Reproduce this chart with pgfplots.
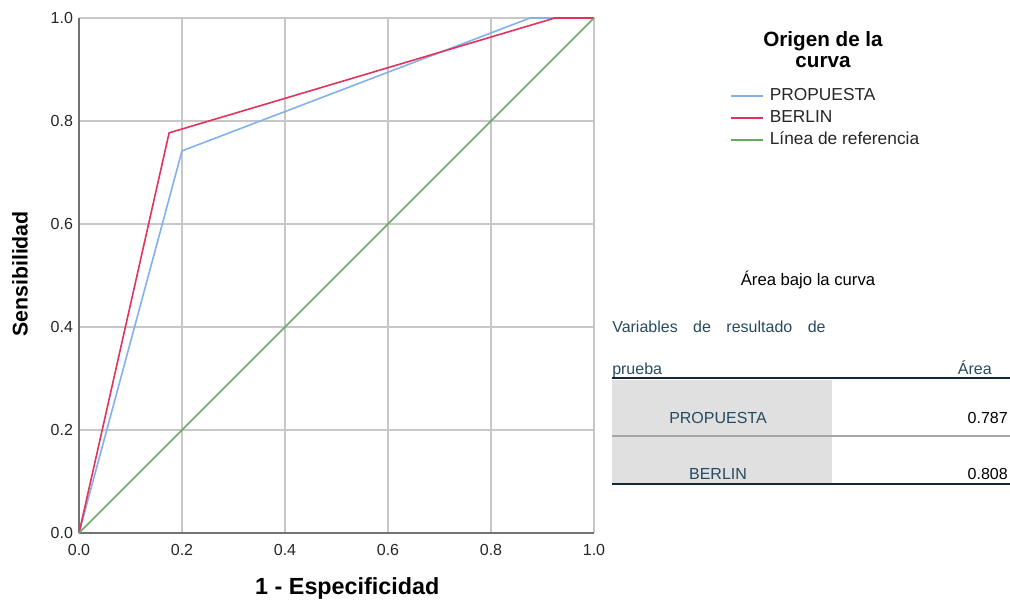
\documentclass[border=0pt]{standalone}
\usepackage{fontspec}
\setmainfont{Liberation Sans}
\usepackage{pgfplots}
\pgfplotsset{compat=1.18}
\definecolor{cblue}{HTML}{82B1EE}
\definecolor{cred}{HTML}{E3325B}
\definecolor{cgreen}{HTML}{6AAA64}
\definecolor{spss}{HTML}{264A60}
\definecolor{spssdark}{HTML}{152935}
\begin{document}
\begin{tikzpicture}
\useasboundingbox (0,0) rectangle (757.5pt,450.75pt);
\begin{axis}[
  at={(59.25pt,51pt)}, anchor=south west,
  scale only axis, width=386.25pt, height=386.25pt,
  xmin=0, xmax=1, ymin=0, ymax=1,
  xtick={0,0.2,0.4,0.6,0.8,1.0}, ytick={0,0.2,0.4,0.6,0.8,1.0},
  xticklabels={0.0,0.2,0.4,0.6,0.8,1.0},
  yticklabels={0.0,0.2,0.4,0.6,0.8,1.0},
  major tick length=0pt,
  axis x line*=bottom, axis y line*=left,
  axis line style={-, draw=black!55, line width=0.9pt},
  grid=major,
  major grid style={draw=black!22, line width=0.9pt},
  tick label style={font=\fontsize{12}{14}\selectfont, text=black!85},
  /pgf/number format/assume math mode=true,
  xticklabel style={yshift=-5pt},
  yticklabel style={xshift=-1pt},
  xlabel={1 - Especificidad}, ylabel={Sensibilidad},
  xlabel style={at={(axis description cs:0.521,-0.107)}, anchor=center, font=\bfseries\fontsize{17.5}{20}\selectfont},
  ylabel style={at={(axis description cs:-0.1146,0.503)}, anchor=center, font=\bfseries\fontsize{16}{19}\selectfont},
  legend image code/.code={\draw[#1] (0pt,0pt) -- (24pt,0pt);},
  legend style={at={(1.264,0.8654)}, anchor=north west, draw=none, fill=none,
    font=\fontsize{13}{15}\selectfont, inner sep=0pt,
    nodes={inner sep=0pt, text height=9.5pt, text depth=3pt},
    row sep=4pt, column sep=4.5pt, text=black!85},
  legend cell align=left,
  clip=false,
]
\addplot[cblue, line width=1.2pt] coordinates {(0,0) (0.2,0.742) (0.876,1) (1,1)};
\addlegendentry{PROPUESTA}
\addplot[cred, line width=1.2pt] coordinates {(0,0) (0.175,0.777) (0.924,1) (1,1)};
\addlegendentry{BERLIN}
\addplot[cgreen, line width=1.2pt] coordinates {(0,0) (1,1)};
\addlegendentry{Línea de referencia}
\end{axis}
% legend title
\node[align=center, font=\bfseries\fontsize{15.5}{15.75}\selectfont] at (617.25pt,413.6pt) {Origen de la\\curva};
% table
\node[font=\fontsize{12.5}{15}\selectfont] at (606pt,240.75pt) {Área bajo la curva};
\node[anchor=base west, inner sep=0pt, text=spss, font=\fontsize{12}{14}\selectfont] at (459pt,201.75pt)
  {\makebox[160pt][l]{Variables\hfill de\hfill resultado\hfill de}};
\node[anchor=base west, inner sep=0pt, text=spss, font=\fontsize{12}{14}\selectfont] at (459pt,170.25pt) {prueba};
\node[anchor=base east, inner sep=0pt, text=spss, font=\fontsize{12}{14}\selectfont] at (744pt,170.25pt) {Área};
\fill[black!12] (459pt,88.5pt) rectangle (624pt,165.75pt);
\draw[spssdark, line width=1.4pt] (459pt,167.25pt) -- (757.5pt,167.25pt);
\draw[black!35, line width=1pt] (459pt,123.75pt) -- (757.5pt,123.75pt);
\draw[spssdark, line width=1.4pt] (459pt,87.75pt) -- (757.5pt,87.75pt);
\node[anchor=base, inner sep=0pt, text=spss, font=\fontsize{12}{14}\selectfont] at (538.5pt,133.5pt) {PROPUESTA};
\node[anchor=base, inner sep=0pt, text=spss, font=\fontsize{12}{14}\selectfont] at (538.5pt,91.5pt) {BERLIN};
\node[anchor=base east, inner sep=0pt, font=\fontsize{12}{14}\selectfont] at (756pt,133.5pt) {0.787};
\node[anchor=base east, inner sep=0pt, font=\fontsize{12}{14}\selectfont] at (756pt,91.5pt) {0.808};
\end{tikzpicture}
\end{document}
